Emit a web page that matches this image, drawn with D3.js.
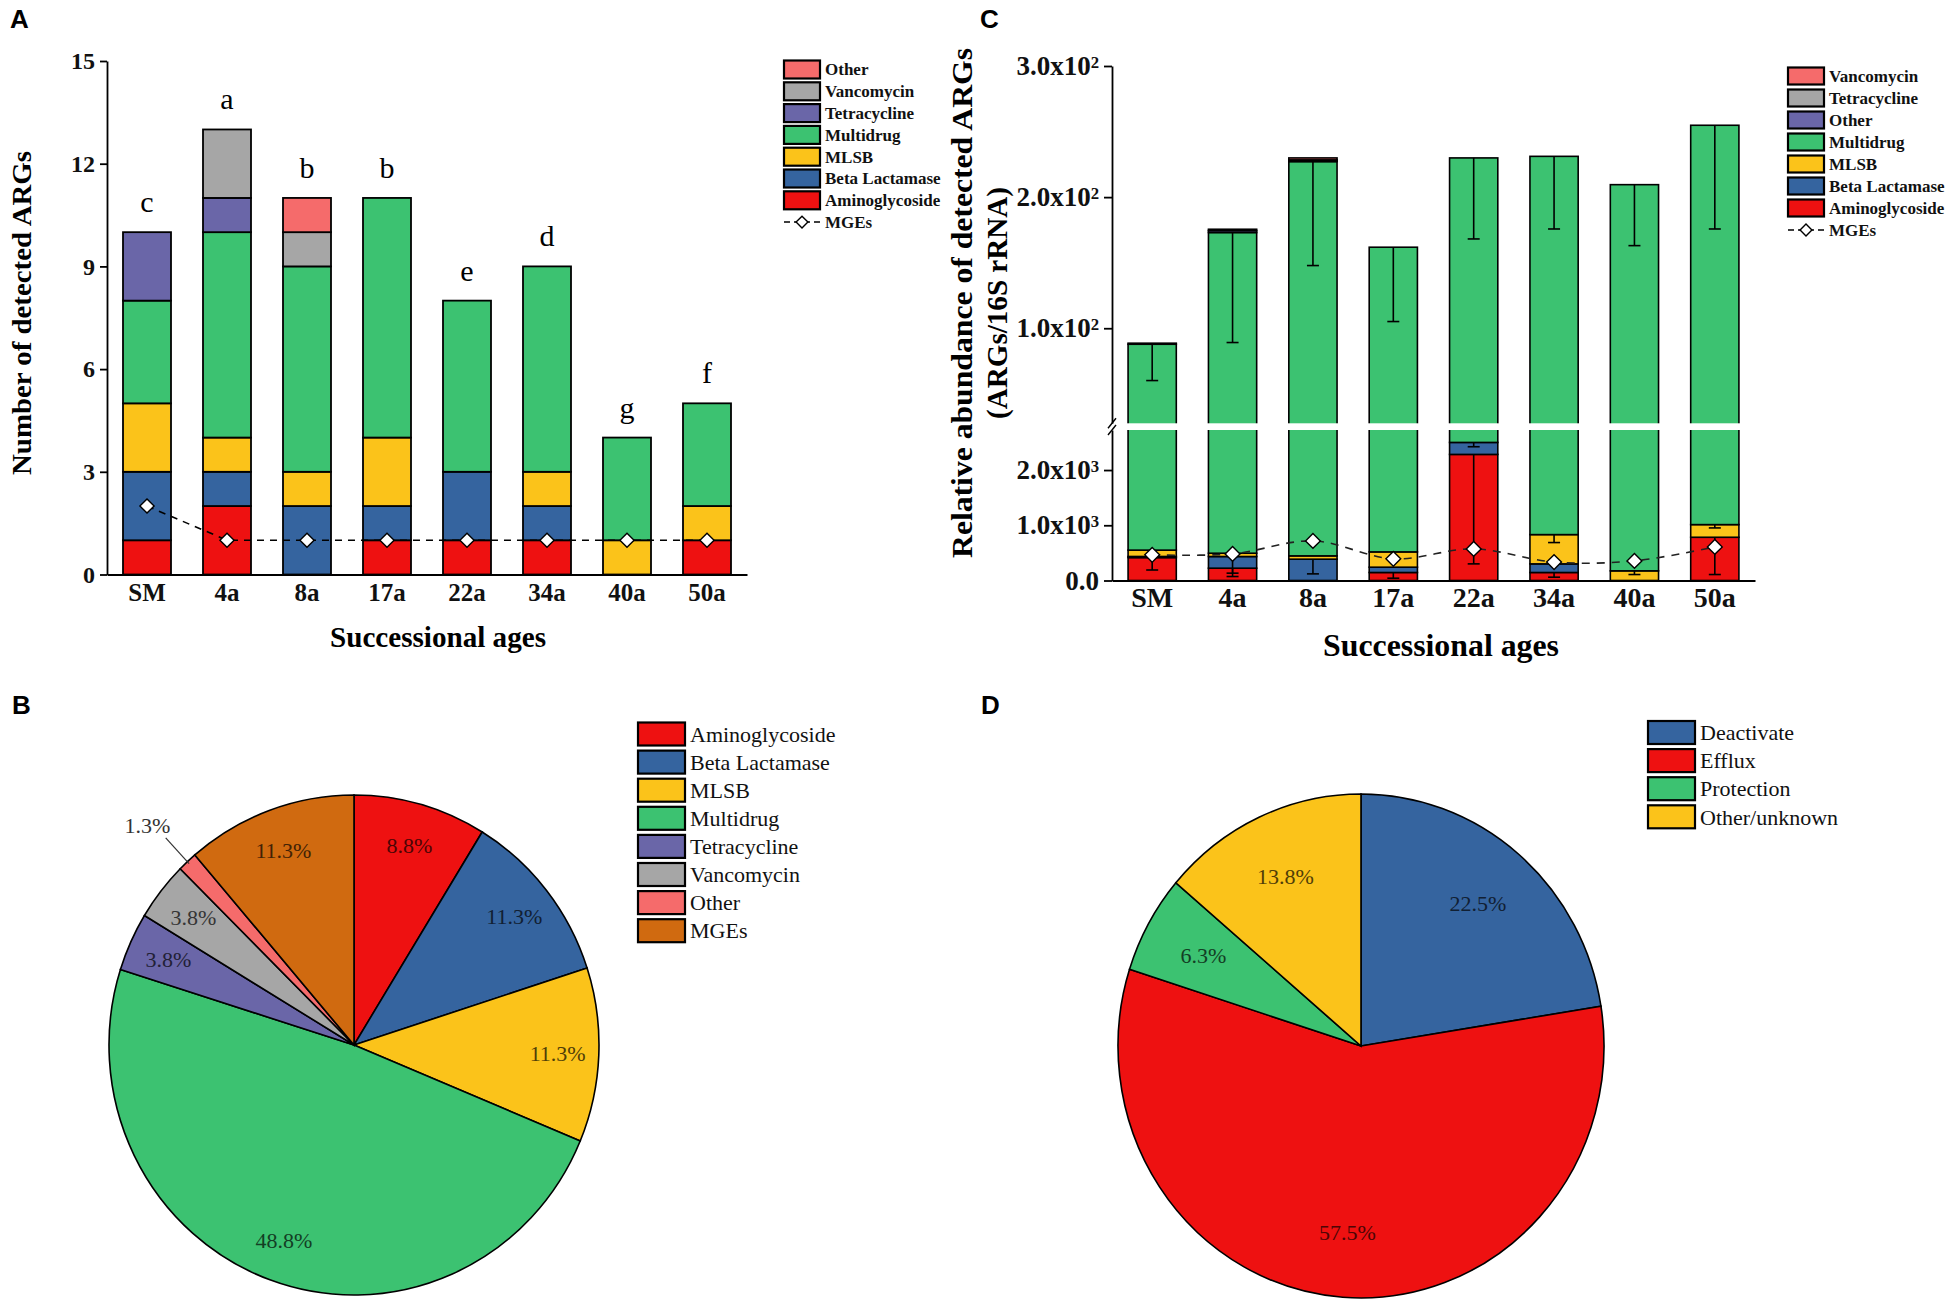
<!DOCTYPE html>
<html>
<head>
<meta charset="utf-8">
<script src="https://cdn.jsdelivr.net/npm/d3@7.9.0/dist/d3.min.js"></script>
<style>
  body { margin: 0; background: #fff; }
  svg { display: block; font-family: "Liberation Serif", "Times New Roman", serif; }
</style>
</head>
<body>
<svg id="fig" width="1950" height="1313"></svg>
<script>
const ages = ['SM', '4a', '8a', '17a', '22a', '34a', '40a', '50a'];

// panel A: number of detected ARGs per class
const aminoA = [1, 2, 0, 1, 1, 1, 0, 1];
const betaA = [2, 1, 2, 1, 2, 1, 0, 0];
const mlsbA = [2, 1, 1, 2, 0, 1, 1, 1];
const multiA = [3, 6, 6, 7, 5, 6, 3, 3];
const tetraA = [2, 1, 0, 0, 0, 0, 0, 0];
const vancoA = [0, 2, 1, 0, 0, 0, 0, 0];
const otherA = [0, 0, 1, 0, 0, 0, 0, 0];
const mgeA = [2, 1, 1, 1, 1, 1, 1, 1];
const lettersA = ['c', 'a', 'b', 'b', 'e', 'd', 'g', 'f'];
const ticksA = [0, 3, 6, 9, 12, 15];

// panel C: relative abundance, broken axis
// lower part read on the 0 - 2.0x10^3 scale
const aminoC = [415, 223, 0, 145, 2283, 145, 0, 783];
const betaC = [20, 211, 386, 96, 217, 156, 0, 0];
const mlsbC = [115, 60, 60, 277, 0, 530, 175, 229];
const aminoErrC = [190, 72, null, 42, 301, 60, null, 108];
const betaErrC = [null, 133, 120, null, 2422, null, null, null];
const mlsbErrC = [null, null, null, null, null, 687, 108, 952];
const mgeC = [464, 482, 717, 392, 572, 334, 355, 608];
// upper part read on the 1.0x10^2 - 3.0x10^2 scale (top of each layer)
const multiTopC = [87.8, 173, 227.1, 161.8, 229.9, 231.1, 209.5, 254.8];
const multiErrC = [60.1, 89.1, 147.8, 105.1, 168.1, 175.7, 163, 175.7];
const otherC = [0.8, 1.5, 0.5, 0, 0, 0, 0, 0];
const tetraC = [0, 1.0, 0.8, 0, 0, 0, 0, 0];
const vancoC = [0, 0, 1.5, 0, 0, 0, 0, 0];
const lowTicksC = [0, 1000, 2000];
const upTicksC = [100, 200, 300];

// panel B: share of ARG classes and MGEs
const classesB = ['Aminoglycoside', 'Beta Lactamase', 'MLSB', 'Multidrug', 'Tetracycline', 'Vancomycin', 'Other', 'MGEs'];
const sharesB = [8.8, 11.3, 11.3, 48.8, 3.8, 3.8, 1.3, 11.3];

// panel D: resistance mechanisms
const mechD = ['Deactivate', 'Efflux', 'Protection', 'Other/unknown'];
const sharesD = [22.5, 57.5, 6.3, 13.8];

const RED = '#ee1111', BLUE = '#35649f', YELLOW = '#fbc31a', GREEN = '#3cc271',
  PURPLE = '#6a66a8', GRAY = '#a6a6a6', PINK = '#f56b6b', BROWN = '#d06a10';

const svg = d3.select('#fig');

function panelLabel(t, x, y) {
  svg.append('text').attr('x', x).attr('y', y).text(t)
    .style('font-family', '"Liberation Sans", Arial, sans-serif')
    .style('font-weight', 'bold').style('font-size', '26px');
}

function diamond(g, x, y, size) {
  g.append('path')
    .attr('d', d3.symbol(d3.symbolSquare, size)())
    .attr('transform', `translate(${x},${y}) rotate(45)`)
    .attr('fill', '#fff').attr('stroke', '#000').attr('stroke-width', 1.4);
}

function legend(items, o) {
  const g = svg.append('g');
  items.forEach(([name, color], i) => {
    const cy = o.y0 + i * o.step;
    if (color === 'mge') {
      g.append('line').attr('x1', o.x).attr('x2', o.x + o.sw).attr('y1', cy).attr('y2', cy)
        .attr('stroke', '#000').attr('stroke-width', 1.5).attr('stroke-dasharray', '6,4');
      diamond(g, o.x + o.sw / 2, cy, 70);
    } else {
      g.append('rect').attr('x', o.x).attr('y', cy - o.sh / 2)
        .attr('width', o.sw).attr('height', o.sh)
        .attr('fill', color).attr('stroke', '#000').attr('stroke-width', 2.2);
    }
    g.append('text').attr('x', o.tx).attr('y', cy).attr('dy', '0.35em').text(name)
      .style('font-size', o.font + 'px').style('font-weight', o.weight)
      .attr('fill', '#111');
  });
}

function titleText(txt, x, y, size, len, rotate) {
  svg.append('text')
    .attr('transform', `translate(${x},${y})` + (rotate ? ' rotate(-90)' : ''))
    .attr('text-anchor', 'middle').attr('dy', '0.35em')
    .attr('textLength', len).attr('lengthAdjust', 'spacingAndGlyphs')
    .style('font-weight', 'bold').style('font-size', size + 'px')
    .text(txt);
}

/* ---------------- Panel A ---------------- */
(function () {
  const keys = ['Aminoglycoside', 'Beta Lactamase', 'MLSB', 'Multidrug', 'Tetracycline', 'Vancomycin', 'Other'];
  const colors = [RED, BLUE, YELLOW, GREEN, PURPLE, GRAY, PINK];
  const series = [aminoA, betaA, mlsbA, multiA, tetraA, vancoA, otherA];
  const rows = ages.map((a, i) => {
    const r = { age: a };
    keys.forEach((k, j) => { r[k] = series[j][i]; });
    return r;
  });
  const stacked = d3.stack().keys(keys)(rows);

  const x = d3.scaleBand().domain(ages).range([107, 747]).paddingInner(0.4).paddingOuter(0.2);
  const y = d3.scaleLinear().domain([0, 15]).range([574.5, 61]);

  const g = svg.append('g');
  stacked.forEach((layer, j) => {
    g.selectAll(null).data(layer.filter(d => d[1] > d[0])).join('rect')
      .attr('x', d => x(d.data.age)).attr('width', x.bandwidth())
      .attr('y', d => y(d[1])).attr('height', d => y(d[0]) - y(d[1]))
      .attr('fill', colors[j]).attr('stroke', '#000').attr('stroke-width', 1.8);
  });

  const totals = ages.map((a, i) => d3.sum(series, s => s[i]));
  g.selectAll(null).data(ages).join('text')
    .attr('x', d => x(d) + x.bandwidth() / 2)
    .attr('y', (d, i) => y(totals[i]) - 20)
    .attr('text-anchor', 'middle').style('font-size', '30px')
    .text((d, i) => lettersA[i]);

  const yAxis = svg.append('g').attr('transform', 'translate(107,0)')
    .call(d3.axisLeft(y).tickValues(ticksA).tickSize(7).tickSizeOuter(0).tickPadding(5));
  yAxis.selectAll('text').style('font-size', '24px').style('font-weight', 'bold')
    .style('font-family', '"Liberation Serif", serif').attr('fill', '#111');
  yAxis.selectAll('path,line').attr('stroke-width', 1.8);

  const xAxis = svg.append('g').attr('transform', 'translate(0,574.5)')
    .call(d3.axisBottom(x).tickSize(0).tickSizeOuter(0).tickPadding(9));
  xAxis.selectAll('text').style('font-size', '25px').style('font-weight', 'bold')
    .style('font-family', '"Liberation Serif", serif').attr('fill', '#111');
  xAxis.select('path').attr('stroke-width', 1.8);

  const line = d3.line().x((d, i) => x(ages[i]) + x.bandwidth() / 2).y(d => y(d));
  svg.append('path').attr('d', line(mgeA)).attr('fill', 'none')
    .attr('stroke', '#000').attr('stroke-width', 1.6).attr('stroke-dasharray', '7,6');
  const gd = svg.append('g');
  mgeA.forEach((v, i) => diamond(gd, x(ages[i]) + x.bandwidth() / 2, y(v), 100));

  titleText('Number of detected ARGs', 21, 313, 28, 324, true);
  titleText('Successional ages', 438, 637, 29, 216, false);

  legend([
    ['Other', PINK], ['Vancomycin', GRAY], ['Tetracycline', PURPLE], ['Multidrug', GREEN],
    ['MLSB', YELLOW], ['Beta Lactamase', BLUE], ['Aminoglycoside', RED], ['MGEs', 'mge']
  ], { x: 784, y0: 69.5, step: 21.8, sw: 36, sh: 18, tx: 825, font: 17, weight: 'bold' });

  panelLabel('A', 10, 28);
})();

/* ---------------- Panel C ---------------- */
(function () {
  const x = d3.scaleBand().domain(ages).range([1112, 1755]).paddingInner(0.4).paddingOuter(0.2);
  const yLow = d3.scaleLinear().domain([0, 2725]).range([580.5, 430]);
  const yUp = d3.scaleLinear().domain([27.5, 300]).range([423.3, 66]);
  const bw = x.bandwidth();
  const cx = a => x(a) + bw / 2;

  const segs = [];
  ages.forEach((a, i) => {
    let s = 0;
    [[aminoC, RED], [betaC, BLUE], [mlsbC, YELLOW]].forEach(([arr, c]) => {
      if (arr[i] > 0) segs.push({ a, c, top: yLow(s + arr[i]), bot: yLow(s) });
      s += arr[i];
    });
    segs.push({ a, c: GREEN, top: yUp(multiTopC[i]), bot: yLow(s) });
    let u = multiTopC[i];
    [[otherC, PURPLE], [tetraC, GRAY], [vancoC, PINK]].forEach(([arr, c]) => {
      if (arr[i] > 0) segs.push({ a, c, top: yUp(u + arr[i]), bot: yUp(u) });
      u += arr[i];
    });
  });

  const g = svg.append('g');
  g.selectAll(null).data(segs).join('rect')
    .attr('x', d => x(d.a)).attr('width', bw)
    .attr('y', d => d.top).attr('height', d => d.bot - d.top)
    .attr('fill', d => d.c).attr('stroke', '#000').attr('stroke-width', 1.6);

  // error bars
  const errs = [];
  ages.forEach((a, i) => {
    errs.push({ a, y1: yUp(multiTopC[i]), y2: yUp(multiErrC[i]) });
    let s = 0;
    [[aminoC, aminoErrC], [betaC, betaErrC], [mlsbC, mlsbErrC]].forEach(([arr, er]) => {
      if (arr[i] > 0 && er[i] != null) errs.push({ a, y1: yLow(s + arr[i]), y2: yLow(er[i]) });
      s += arr[i];
    });
  });
  const ge = svg.append('g').attr('stroke', '#000').attr('stroke-width', 1.6);
  errs.forEach(e => {
    ge.append('line').attr('x1', cx(e.a)).attr('x2', cx(e.a)).attr('y1', e.y1).attr('y2', e.y2);
    ge.append('line').attr('x1', cx(e.a) - 6).attr('x2', cx(e.a) + 6).attr('y1', e.y2).attr('y2', e.y2);
  });

  // axis break band
  svg.append('rect').attr('x', 1113).attr('y', 423.3).attr('width', 650).attr('height', 6.7).attr('fill', '#fff');

  function sup(sel, base, exp) {
    sel.text(null);
    sel.append('tspan').text(base);
    if (exp) sel.append('tspan').attr('dy', '-0.45em').style('font-size', '0.62em').text(exp);
  }
  const fmtUp = d => [(d / 100).toFixed(1) + 'x10', '2'];
  const fmtLow = d => d === 0 ? ['0.0', ''] : [(d / 1000).toFixed(1) + 'x10', '3'];

  [[yUp, upTicksC, fmtUp], [yLow, lowTicksC, fmtLow]].forEach(([sc, tv, fmt]) => {
    const ax = svg.append('g').attr('transform', 'translate(1112,0)')
      .call(d3.axisLeft(sc).tickValues(tv).tickSize(8).tickSizeOuter(0).tickPadding(5));
    ax.selectAll('text').style('font-size', '27px').style('font-weight', 'bold')
      .style('font-family', '"Liberation Serif", serif').attr('fill', '#111')
      .each(function (d) { const [b, e] = fmt(d); sup(d3.select(this), b, e); });
    ax.selectAll('path,line').attr('stroke-width', 1.8);
  });
  // break marks
  [423.3, 430].forEach(yy => {
    svg.append('line').attr('x1', 1108).attr('x2', 1116).attr('y1', yy + 5).attr('y2', yy - 5)
      .attr('stroke', '#000').attr('stroke-width', 1.4);
  });

  const xAxis = svg.append('g').attr('transform', 'translate(0,580.5)')
    .call(d3.axisBottom(x).tickSize(0).tickSizeOuter(0).tickPadding(7));
  xAxis.selectAll('text').style('font-size', '28px').style('font-weight', 'bold')
    .style('font-family', '"Liberation Serif", serif').attr('fill', '#111');
  xAxis.select('path').attr('stroke-width', 1.8);

  const line = d3.line().curve(d3.curveCatmullRom).x((d, i) => cx(ages[i])).y(d => yLow(d));
  svg.append('path').attr('d', line(mgeC)).attr('fill', 'none')
    .attr('stroke', '#222').attr('stroke-width', 1.6).attr('stroke-dasharray', '8,7');
  const gd = svg.append('g');
  mgeC.forEach((v, i) => diamond(gd, cx(ages[i]), yLow(v), 110));

  titleText('Relative abundance of detected ARGs', 961, 303, 30, 510, true);
  titleText('(ARGs/16S rRNA)', 997, 303, 29, 232, true);
  titleText('Successional ages', 1441, 645, 32, 236, false);

  legend([
    ['Vancomycin', PINK], ['Tetracycline', GRAY], ['Other', PURPLE], ['Multidrug', GREEN],
    ['MLSB', YELLOW], ['Beta Lactamase', BLUE], ['Aminoglycoside', RED], ['MGEs', 'mge']
  ], { x: 1788, y0: 76, step: 22, sw: 36, sh: 17, tx: 1829, font: 17, weight: 'bold' });

  panelLabel('C', 980, 28);
})();

/* ---------------- Pies ---------------- */
function drawPie(names, values, colors, o) {
  const arcs = d3.pie().sort(null).value(d => d)(values);
  const arc = d3.arc().innerRadius(0).outerRadius(o.ry);
  const g = svg.append('g').attr('transform', `translate(${o.cx},${o.cy}) scale(${o.rx / o.ry},1)`);
  g.selectAll('path').data(arcs).join('path')
    .attr('d', arc).attr('fill', (d, i) => colors[i])
    .attr('stroke', '#000').attr('stroke-width', 1.6).attr('vector-effect', 'non-scaling-stroke');

  arcs.forEach((d, i) => {
    const mid = (d.startAngle + d.endAngle) / 2;
    const out = o.outside === i;
    const r = out ? 1.24 * o.ry : o.labelR;
    const lx = o.cx + Math.sin(mid) * r * o.rx / o.ry;
    const ly = o.cy - Math.cos(mid) * r + (out ? 8 : 0);
    if (out) {
      svg.append('line')
        .attr('x1', o.cx + Math.sin(mid) * 0.99 * o.rx).attr('y1', o.cy - Math.cos(mid) * 0.99 * o.ry)
        .attr('x2', o.cx + Math.sin(mid) * 1.13 * o.rx).attr('y2', o.cy - Math.cos(mid) * 1.13 * o.ry)
        .attr('stroke', '#333').attr('stroke-width', 1.2);
    }
    svg.append('text').attr('x', lx).attr('y', ly).attr('dy', '0.35em')
      .attr('text-anchor', 'middle').style('font-size', '22px')
      .attr('fill', out ? '#333' : d3.color(colors[i]).darker(3.2))
      .text(values[i].toFixed(1) + '%');
  });

  legend(names.map((n, i) => [n, colors[i]]),
    { x: o.lx, y0: o.ly0, step: 28.1, sw: 47, sh: 23, tx: o.lx + 52, font: 22, weight: 'normal' });
}

drawPie(classesB, sharesB, [RED, BLUE, YELLOW, GREEN, PURPLE, GRAY, PINK, BROWN],
  { cx: 354, cy: 1045, rx: 245, ry: 250, labelR: 208, outside: 6, lx: 638, ly0: 734 });
panelLabel('B', 12, 714);

drawPie(mechD, sharesD, [BLUE, RED, GREEN, YELLOW],
  { cx: 1361, cy: 1046, rx: 243, ry: 252, labelR: 187, outside: -1, lx: 1648, ly0: 732.5 });
panelLabel('D', 981, 714);
</script>
</body>
</html>
